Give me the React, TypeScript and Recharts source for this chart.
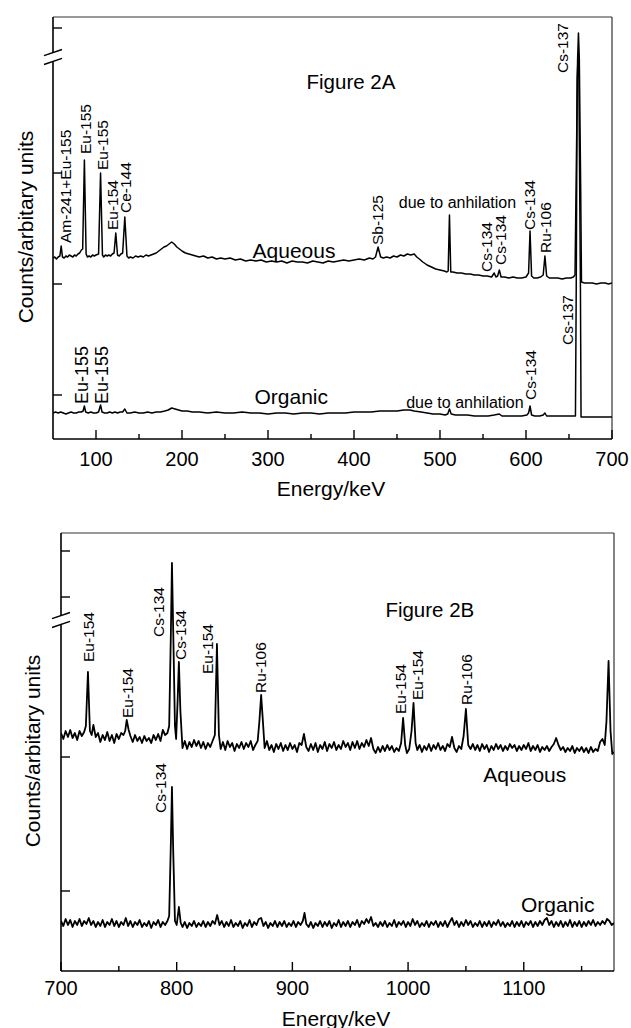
import React from 'react';
import { LineChart, Line, XAxis, YAxis, ReferenceDot, ReferenceLine } from 'recharts';

type Pt = [number, number];
type Tag = [string, number, number];

const FONT = "'Liberation Sans', Arial, Helvetica, sans-serif";

// Figure 2A, energy (keV) vs counts (arbitrary units)
const aqueousA: Pt[] = [
  [50, 181], [52, 182], [54, 180], [56, 182], [58, 183], [59.5, 193], [61, 182], [63, 181], [65, 183], [67, 182],
  [69, 184], [71, 183], [73, 182], [75, 184], [77, 183], [79, 185], [81, 186], [83, 189], [84.5, 190], [86.5, 279],
  [88.5, 185], [90, 182], [92, 183], [94, 182], [96, 184], [98, 183], [100, 184], [103, 185], [105.3, 266], [107.5, 184],
  [109, 182], [111, 184], [113, 183], [115, 184], [117, 183], [119, 185], [121, 186], [123, 206], [125, 184], [127, 183],
  [129, 185], [131, 186], [133.5, 222], [136, 183], [138, 181], [140, 182], [143, 181], [146, 183], [149, 182], [152, 183],
  [155, 182], [158, 184], [161, 183], [164, 184], [167, 185], [170, 186], [173, 188], [176, 190], [179, 192], [182, 193],
  [185, 195], [188, 197], [191, 195], [194, 192], [197, 190], [200, 188], [204, 186], [208, 185], [212, 184], [216, 183],
  [220, 182], [225, 183], [230, 181], [235, 182], [240, 180], [245, 181], [250, 180], [256, 181], [262, 179], [268, 180],
  [274, 178], [280, 179], [286, 178], [292, 179], [298, 177], [304, 178], [310, 177], [316, 178], [322, 176], [328, 178],
  [334, 177], [340, 177], [346, 176], [352, 178], [358, 177], [364, 176], [370, 178], [376, 177], [382, 178], [388, 179],
  [394, 178], [400, 179], [406, 180], [412, 179], [418, 181], [422, 180], [425, 182], [428, 192], [431, 182], [434, 181],
  [438, 182], [442, 181], [446, 183], [450, 182], [454, 184], [458, 183], [462, 185], [466, 184], [470, 185], [473, 182],
  [476, 180], [480, 177], [485, 174], [490, 172], [495, 170], [500, 169], [505, 168], [508, 167], [509.5, 168], [511, 224],
  [512.5, 167], [515, 167], [520, 166], [525, 166], [530, 165], [535, 165], [540, 164], [545, 164], [550, 163], [555, 163],
  [560, 162], [563, 166], [565, 162], [567, 163], [569, 169], [571, 162], [575, 162], [580, 161], [585, 162], [590, 161],
  [595, 161], [600, 162], [603, 166], [604.7, 208], [606.5, 163], [609, 161], [613, 161], [617, 162], [620, 164], [622, 183],
  [624, 163], [627, 161], [632, 161], [637, 161], [642, 160], [647, 161], [652, 161], [655, 162], [657, 164], [658.2, 250],
  [660, 380], [661, 406], [662, 380], [663.6, 250], [664.5, 157], [668, 156], [672, 156], [677, 156], [682, 155], [687, 156],
  [692, 156], [696, 155], [700, 156],
];

const organicA: Pt[] = [
  [50, 26], [53, 27], [56, 26], [59, 27], [62, 26], [65, 25], [68, 26], [71, 27], [74, 26], [77, 26],
  [80, 27], [83, 27], [85, 28], [86.5, 33], [88, 27], [91, 26], [94, 27], [97, 26], [100, 26], [103, 27],
  [105.3, 34], [107, 27], [110, 26], [113, 26], [116, 27], [119, 26], [122, 27], [125, 26], [128, 27], [131, 27],
  [133.5, 30], [136, 26], [140, 26], [145, 27], [150, 26], [155, 26], [160, 27], [165, 26], [170, 27], [175, 27],
  [180, 28], [184, 29], [188, 31], [192, 30], [196, 29], [200, 28], [206, 28], [212, 27], [220, 27], [230, 26],
  [240, 27], [250, 26], [260, 26], [270, 27], [280, 26], [290, 26], [300, 25], [310, 26], [320, 26], [330, 25],
  [340, 26], [350, 26], [360, 25], [370, 26], [380, 26], [390, 26], [400, 27], [410, 27], [420, 27], [430, 28],
  [440, 28], [450, 28], [458, 29], [465, 29], [470, 28], [478, 27], [485, 26], [492, 25], [500, 25], [506, 24],
  [509, 25], [511, 30], [513, 25], [518, 24], [525, 24], [532, 24], [540, 23], [548, 23], [556, 23], [563, 24],
  [569, 25], [572, 23], [580, 23], [588, 23], [595, 23], [601, 24], [603, 26], [604.7, 33], [606.5, 24], [610, 23],
  [616, 23], [620, 24], [622, 26], [624, 23], [630, 23], [638, 23], [645, 23], [652, 23], [657.5, 23], [658.4, 150],
  [659.5, 360], [660.5, 382], [661.5, 360], [663.3, 150], [664, 22], [670, 22], [676, 22], [682, 22], [688, 22],
  [694, 22], [700, 22],
];

// Figure 2B
const aqueousB: Pt[] = [
  [700, 238], [702, 232], [704, 240], [706, 234], [708, 241], [710, 233], [712, 238], [714, 231], [716, 240], [718, 235],
  [720, 239], [721.5, 245], [723.3, 299], [725, 240], [726.5, 236], [728, 246], [730, 234], [732, 238], [734, 229], [736, 236],
  [738, 231], [740, 239], [742, 230], [744, 236], [746, 228], [748, 237], [750, 232], [752, 238], [754, 236], [755.5, 240],
  [756.8, 251], [758.5, 241], [760, 235], [762, 229], [764, 236], [766, 230], [768, 234], [770, 228], [772, 235], [774, 230],
  [776, 233], [778, 228], [780, 236], [782, 231], [784, 237], [786, 230], [788, 241], [790, 236], [792, 238], [793.5, 245],
  [795, 340], [795.9, 408], [797, 340], [798.5, 245], [799.5, 232], [800.8, 270], [801.9, 309], [803.2, 260], [805, 223], [807, 230],
  [809, 222], [811, 229], [813, 224], [815, 231], [817, 225], [819, 230], [821, 223], [823, 229], [825, 222], [827, 228],
  [829, 224], [831, 230], [833, 236], [834.8, 327], [836.5, 236], [838, 222], [840, 229], [842, 221], [844, 230], [846, 224],
  [848, 228], [850, 220], [852, 227], [854, 223], [856, 229], [858, 222], [860, 228], [862, 224], [864, 230], [866, 221],
  [868, 226], [870, 230], [871.5, 250], [873, 276], [874.5, 250], [876, 223], [878, 230], [880, 221], [882, 226], [884, 219],
  [886, 227], [888, 222], [890, 228], [892, 220], [894, 226], [896, 221], [898, 228], [900, 222], [902, 226], [904, 219],
  [906, 228], [908, 226], [910, 237], [912, 224], [914, 220], [916, 227], [918, 221], [920, 228], [922, 219], [924, 226],
  [926, 222], [928, 229], [930, 220], [932, 227], [934, 223], [936, 229], [938, 221], [940, 226], [942, 222], [944, 230],
  [946, 224], [948, 228], [950, 221], [952, 229], [954, 223], [956, 230], [958, 222], [960, 228], [962, 224], [964, 231],
  [966, 225], [968, 233], [970, 222], [972, 218], [974, 224], [976, 219], [978, 225], [980, 220], [982, 226], [984, 221],
  [986, 225], [988, 219], [990, 223], [992, 220], [994, 228], [995.7, 253], [997.5, 226], [999, 218], [1001, 222], [1003, 240],
  [1004.7, 268], [1006.5, 228], [1008, 221], [1010, 226], [1012, 219], [1014, 225], [1016, 221], [1018, 227], [1020, 220], [1022, 226],
  [1024, 222], [1026, 228], [1028, 221], [1030, 225], [1032, 220], [1034, 227], [1036, 224], [1038, 234], [1040, 223], [1042, 219],
  [1044, 225], [1046, 222], [1048, 235], [1050, 262], [1052, 226], [1054, 222], [1056, 227], [1058, 221], [1060, 226], [1062, 220],
  [1064, 227], [1066, 222], [1068, 226], [1070, 219], [1072, 225], [1074, 221], [1076, 227], [1078, 222], [1080, 226], [1082, 220],
  [1084, 225], [1086, 221], [1088, 227], [1090, 223], [1092, 226], [1094, 220], [1096, 225], [1098, 221], [1100, 226], [1102, 222],
  [1104, 228], [1106, 220], [1108, 225], [1110, 221], [1112, 226], [1114, 219], [1116, 224], [1118, 221], [1120, 225], [1122, 220],
  [1124, 224], [1126, 227], [1128, 233], [1130, 226], [1132, 221], [1134, 224], [1136, 219], [1138, 223], [1140, 220], [1142, 225],
  [1144, 218], [1146, 223], [1148, 220], [1150, 224], [1152, 219], [1154, 223], [1156, 218], [1158, 224], [1160, 219], [1162, 222],
  [1164, 220], [1166, 229], [1168, 232], [1170, 226], [1171.5, 250], [1173.3, 310], [1175, 240], [1176.5, 217], [1178, 219],
];

const organicB: Pt[] = [
  [700, 50], [702, 45], [704, 52], [706, 46], [708, 51], [710, 44], [712, 50], [714, 46], [716, 52], [718, 45],
  [720, 50], [722, 47], [724, 53], [726, 46], [728, 50], [730, 44], [732, 49], [734, 45], [736, 51], [738, 44],
  [740, 49], [742, 46], [744, 52], [746, 45], [748, 50], [750, 44], [752, 49], [754, 46], [756, 53], [758, 45],
  [760, 50], [762, 44], [764, 49], [766, 46], [768, 51], [770, 44], [772, 48], [774, 45], [776, 50], [778, 43],
  [780, 49], [782, 46], [784, 51], [786, 44], [788, 49], [790, 46], [792, 50], [793.5, 55], [795, 130], [795.9, 184],
  [797, 120], [798.5, 50], [800, 46], [801.9, 64], [803.5, 48], [805, 44], [807, 49], [809, 43], [811, 48], [813, 45],
  [815, 50], [817, 44], [819, 48], [821, 45], [823, 50], [825, 44], [827, 49], [829, 45], [831, 50], [833, 47],
  [835, 56], [837, 46], [839, 50], [841, 44], [843, 49], [845, 45], [847, 51], [849, 44], [851, 48], [853, 45],
  [855, 50], [857, 43], [859, 48], [861, 45], [863, 51], [865, 44], [867, 49], [869, 46], [871, 52], [873, 53],
  [875, 45], [877, 49], [879, 43], [881, 48], [883, 45], [885, 50], [887, 44], [889, 49], [891, 45], [893, 50],
  [895, 44], [897, 48], [899, 45], [901, 50], [903, 44], [905, 49], [907, 46], [909, 50], [910.5, 58], [912, 47],
  [914, 44], [916, 49], [918, 43], [920, 48], [922, 45], [924, 50], [926, 44], [928, 49], [930, 45], [932, 50],
  [934, 43], [936, 48], [938, 45], [940, 51], [942, 44], [944, 49], [946, 45], [948, 50], [950, 44], [952, 49],
  [954, 46], [956, 51], [958, 44], [960, 50], [962, 47], [964, 52], [966, 48], [968, 54], [970, 45], [972, 48],
  [974, 44], [976, 49], [978, 45], [980, 50], [982, 44], [984, 48], [986, 45], [988, 51], [990, 44], [992, 49],
  [994, 46], [996, 50], [998, 44], [1000, 49], [1002, 45], [1004, 52], [1006, 46], [1008, 50], [1010, 44], [1012, 48],
  [1014, 45], [1016, 50], [1018, 44], [1020, 49], [1022, 46], [1024, 50], [1026, 44], [1028, 49], [1030, 45], [1032, 50],
  [1034, 44], [1036, 49], [1038, 53], [1040, 46], [1042, 50], [1044, 44], [1046, 49], [1048, 45], [1050, 51], [1052, 46],
  [1054, 50], [1056, 44], [1058, 48], [1060, 45], [1062, 50], [1064, 44], [1066, 49], [1068, 45], [1070, 50], [1072, 44],
  [1074, 49], [1076, 46], [1078, 51], [1080, 45], [1082, 49], [1084, 44], [1086, 48], [1088, 45], [1090, 50], [1092, 44],
  [1094, 49], [1096, 45], [1098, 50], [1100, 44], [1102, 49], [1104, 46], [1106, 50], [1108, 44], [1110, 49], [1112, 45],
  [1114, 50], [1116, 46], [1118, 51], [1120, 53], [1122, 46], [1124, 50], [1126, 44], [1128, 49], [1130, 45], [1132, 50],
  [1134, 44], [1136, 49], [1138, 45], [1140, 51], [1142, 44], [1144, 49], [1146, 45], [1148, 50], [1150, 44], [1152, 49],
  [1154, 45], [1156, 50], [1158, 46], [1160, 51], [1162, 45], [1164, 49], [1166, 46], [1168, 50], [1170, 47], [1172, 52],
  [1174, 50], [1176, 46], [1178, 48],
];

const xTicksA = [100, 150, 200, 250, 300, 350, 400, 450, 500, 550, 600, 650, 700];
const xTicksB = [700, 750, 800, 850, 900, 950, 1000, 1050, 1100, 1150];
const yTicksA = [44, 155, 266, 411];
const yTicksB = [80, 214, 374, 420];

// peak tags: [text, energy, count where the text starts]
const aqueousTagsA: Tag[] = [
  ['Am-241+Eu-155', 65.1, 196],
  ['Eu-155', 87.8, 285],
  ['Eu-155', 107.6, 269],
  ['Eu-154', 119.8, 209],
  ['Ce-144', 134.9, 226],
  ['Sb-125', 427.3, 194],
  ['Cs-134', 554.7, 167],
  ['Cs-134', 570.9, 174],
  ['Cs-134', 604.7, 209],
  ['Ru-106', 623.3, 186],
  ['Cs-137', 643, 366],
];
const organicTagsA: Tag[] = [
  ['Eu-155', 83.7, 35],
  ['Eu-155', 107, 35],
  ['Cs-134', 605.8, 39],
  ['Cs-137', 648.8, 94],
];
const aqueousTagsB: Tag[] = [
  ['Eu-154', 724.2, 309],
  ['Eu-154', 757.9, 253],
  ['Cs-134', 784.7, 334],
  ['Cs-134', 803.7, 311],
  ['Eu-154', 827, 297],
  ['Ru-106', 872.8, 278],
  ['Eu-154', 993.7, 257],
  ['Eu-154', 1008.4, 271],
  ['Ru-106', 1050.8, 266],
];
const organicTagsB: Tag[] = [['Cs-134', 786.4, 158]];

// horizontal captions: [text, energy, count at centre, font size]
const captionsA: [string, number, number, number][] = [
  ['Figure 2A', 396.5, 357, 20.5],
  ['Aqueous', 330.2, 188, 21],
  ['Organic', 327, 42, 21],
  ['due to anhilation', 520.3, 237, 16],
  ['due to anhilation', 529, 37, 16],
];
const captionsB: [string, number, number, number][] = [
  ['Figure 2B', 1018.8, 361, 20.5],
  ['Aqueous', 1100.9, 196, 21],
  ['Organic', 1129.4, 66, 21],
];

const toPoints = (arr: Pt[]) => arr.map(([e, c]) => ({ e, c }));

const X_AXIS_H = 30;
const Y_AXIS_W = 10;

const xTick = (labelDy: number) => (props: any) => {
  const { x, y, payload } = props;
  const v = payload.value;
  const major = v % 100 === 0;
  return (
    <g>
      <line x1={x} x2={x} y1={y} y2={y - (major ? 9 : 5)} stroke="#000" strokeWidth={1.4} />
      {major && (
        <text x={x} y={y + labelDy} textAnchor="middle" fontSize={20} fontFamily={FONT} fill="#000">
          {v}
        </text>
      )}
    </g>
  );
};

const yTick = (props: any) => {
  const { x, y } = props;
  return <line x1={x} x2={x + 9} y1={y} y2={y} stroke="#000" strokeWidth={1.4} />;
};

const breakMark = (props: any) => {
  const { cx, cy } = props;
  return (
    <g>
      <polygon
        points={`${cx - 3},${cy - 3.3} ${cx + 3},${cy - 5.3} ${cx + 3},${cy + 3} ${cx - 3},${cy + 5}`}
        fill="#fff"
      />
      <line x1={cx - 9} y1={cy - 1.3} x2={cx + 9} y2={cy - 7.5} stroke="#000" strokeWidth={1.4} />
      <line x1={cx - 9} y1={cy + 7.5} x2={cx + 9} y2={cy + 1.3} stroke="#000" strokeWidth={1.4} />
    </g>
  );
};

const vTag = (text: string, size: number) => (props: any) => {
  const { cx, cy } = props;
  return (
    <text
      x={cx}
      y={cy}
      dy="0.35em"
      transform={`rotate(-90 ${cx} ${cy})`}
      fontSize={size}
      fontFamily={FONT}
      fill="#000"
    >
      {text}
    </text>
  );
};

const hTag = (text: string, size: number) => (props: any) => {
  const { cx, cy } = props;
  return (
    <text x={cx} y={cy} dy="0.35em" textAnchor="middle" fontSize={size} fontFamily={FONT} fill="#000">
      {text}
    </text>
  );
};

type PanelProps = {
  width: number;
  height: number;
  margin: { top: number; right: number; bottom: number; left: number };
  xDomain: [number, number];
  yMax: number;
  xTicks: number[];
  yTicks: number[];
  labelDy: number;
  breakAt: number;
  aqueous: Pt[];
  organic: Pt[];
  tags: [Tag[], number][];
  captions: [string, number, number, number][];
  lineWidth: number;
};

function Panel(p: PanelProps) {
  // the margins given are to the plot box; axes take part of them
  const margin = {
    top: p.margin.top,
    right: p.margin.right,
    bottom: p.margin.bottom - X_AXIS_H,
    left: p.margin.left - Y_AXIS_W,
  };
  return (
    <LineChart width={p.width} height={p.height} margin={margin}>
      <XAxis
        type="number"
        dataKey="e"
        domain={p.xDomain}
        ticks={p.xTicks}
        interval={0}
        allowDataOverflow
        tickLine={false}
        tickSize={0}
        tickMargin={0}
        height={X_AXIS_H}
        axisLine={{ stroke: '#000', strokeWidth: 1.6 }}
        tick={xTick(p.labelDy)}
      />
      <YAxis
        type="number"
        domain={[0, p.yMax]}
        ticks={p.yTicks}
        interval={0}
        allowDataOverflow
        tickLine={false}
        tickSize={0}
        tickMargin={0}
        width={Y_AXIS_W}
        axisLine={{ stroke: '#000', strokeWidth: 1.6 }}
        tick={yTick}
      />
      <ReferenceLine y={p.yMax} stroke="#333" strokeWidth={1.2} />
      <ReferenceLine x={p.xDomain[1]} stroke="#333" strokeWidth={1.2} />
      <Line
        data={toPoints(p.aqueous)}
        dataKey="c"
        type="linear"
        dot={false}
        stroke="#000"
        strokeWidth={p.lineWidth}
        strokeLinejoin="round"
        isAnimationActive={false}
      />
      <Line
        data={toPoints(p.organic)}
        dataKey="c"
        type="linear"
        dot={false}
        stroke="#000"
        strokeWidth={p.lineWidth}
        strokeLinejoin="round"
        isAnimationActive={false}
      />
      <ReferenceDot x={p.xDomain[0]} y={p.breakAt} ifOverflow="visible" shape={breakMark} />
      {p.tags.flatMap(([list, size], gi) =>
        list.map(([text, e, c], i) => (
          <ReferenceDot key={`t${gi}-${i}`} x={e} y={c} ifOverflow="visible" shape={vTag(text, size)} />
        )),
      )}
      {p.captions.map(([text, e, c, size], i) => (
        <ReferenceDot key={`c${i}`} x={e} y={c} ifOverflow="visible" shape={hTag(text, size)} />
      ))}
    </LineChart>
  );
}

const titleStyle: React.CSSProperties = {
  position: 'absolute',
  fontFamily: FONT,
  fontSize: 21,
  color: '#000',
  whiteSpace: 'nowrap',
  lineHeight: 1,
};

export default function App() {
  return (
    <div style={{ position: 'absolute', left: 0, top: 0, width: 631, height: 1028, background: '#fff' }}>
      <div style={{ position: 'absolute', left: 0, top: 0 }}>
        <Panel
          width={631}
          height={500}
          margin={{ top: 17, right: 19, bottom: 61, left: 53 }}
          xDomain={[50, 700]}
          yMax={422}
          xTicks={xTicksA}
          yTicks={yTicksA}
          labelDy={26.5}
          breakAt={382}
          aqueous={aqueousA}
          organic={organicA}
          tags={[
            [aqueousTagsA, 15.5],
            [organicTagsA.slice(0, 2), 18],
            [organicTagsA.slice(2), 15.5],
          ]}
          captions={captionsA}
          lineWidth={1.5}
        />
      </div>
      <div style={{ position: 'absolute', left: 0, top: 520 }}>
        <Panel
          width={631}
          height={508}
          margin={{ top: 13, right: 17, bottom: 57, left: 61 }}
          xDomain={[700, 1178]}
          yMax={438}
          xTicks={xTicksB}
          yTicks={yTicksB}
          labelDy={24}
          breakAt={351}
          aqueous={aqueousB}
          organic={organicB}
          tags={[
            [aqueousTagsB, 15.5],
            [organicTagsB, 15.5],
          ]}
          captions={captionsB}
          lineWidth={1.8}
        />
      </div>
      <div style={{ ...titleStyle, left: 25, top: 227, transform: 'translate(-50%, -50%) rotate(-90deg)' }}>
        Counts/arbitary units
      </div>
      <div style={{ ...titleStyle, left: 331, top: 488, transform: 'translate(-50%, -50%)' }}>Energy/keV</div>
      <div style={{ ...titleStyle, left: 32, top: 751, transform: 'translate(-50%, -50%) rotate(-90deg)' }}>
        Counts/arbitary units
      </div>
      <div style={{ ...titleStyle, left: 336, top: 1018, transform: 'translate(-50%, -50%)' }}>Energy/keV</div>
    </div>
  );
}
